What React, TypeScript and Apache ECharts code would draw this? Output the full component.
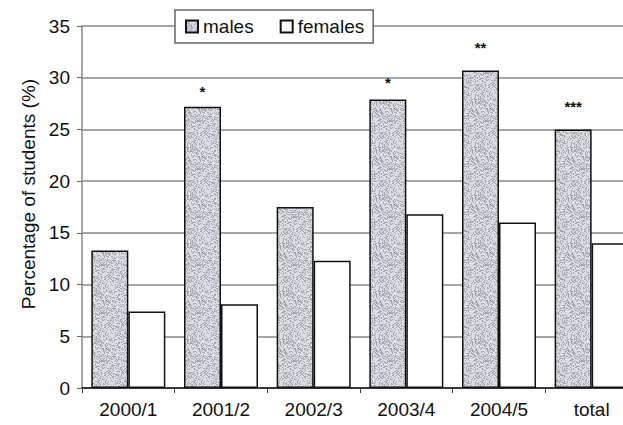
import React, { useEffect, useRef } from "react";
import * as echarts from "echarts";

const categories = ["2000/1", "2001/2", "2002/3", "2003/4", "2004/5", "total"];
const males = [13.3, 27.2, 17.5, 27.9, 30.7, 25.0];
const females = [7.4, 8.1, 12.3, 16.8, 16.0, 14.0];
const significance = ["", "*", "", "*", "**", "***"];
const yTicks = [0, 5, 10, 15, 20, 25, 30, 35];
const yAxisTitle = "Percentage of students (%)";

const starDistance = [6, 8, 6, 9, 15, 15];

function makeStipple(): HTMLCanvasElement {
  const c = document.createElement("canvas");
  c.width = 48;
  c.height = 48;
  const ctx = c.getContext("2d")!;
  const img = ctx.createImageData(48, 48);
  for (let y = 0; y < 48; y++) {
    for (let x = 0; x < 48; x++) {
      const s = Math.sin(x * 12.9898 + y * 78.233) * 43758.5453;
      const h = s - Math.floor(s);
      const v = h < 0.38 ? 166 : 218;
      const i = (y * 48 + x) * 4;
      img.data[i] = v;
      img.data[i + 1] = v + 3;
      img.data[i + 2] = v + 10;
      img.data[i + 3] = 255;
    }
  }
  ctx.putImageData(img, 0, 0);
  return c;
}

export default function App() {
  const ref = useRef<HTMLDivElement>(null);
  useEffect(() => {
    if (!ref.current) return;
    const chart = echarts.init(ref.current, undefined, { renderer: "svg" });
    const stipple = makeStipple();
    const font = "Liberation Sans, Arial, sans-serif";
    chart.setOption({
      animation: false,
      backgroundColor: "#ffffff",
      textStyle: { fontFamily: font },
      legend: {
        left: 175,
        top: 10,
        padding: [7, 9, 7, 10],
        itemGap: 26,
        itemWidth: 12,
        itemHeight: 12,
        backgroundColor: "#ffffff",
        borderColor: "#666",
        borderWidth: 1.5,
        textStyle: { fontSize: 19, color: "#111", fontFamily: font },
        data: [
          { name: "males", icon: "rect" },
          { name: "females", icon: "rect" },
        ],
      },
      graphic: [
        {
          type: "text",
          x: 28,
          y: 194,
          rotation: Math.PI / 2,
          style: {
            text: yAxisTitle,
            fontSize: 19,
            fontFamily: font,
            fill: "#111",
            align: "center",
            verticalAlign: "middle",
          },
        },
      ],
      grid: { left: 82, top: 26, width: 556, height: 362, outerBoundsMode: "none", containLabel: false },
      xAxis: {
        type: "category",
        data: categories,
        axisLine: { lineStyle: { color: "#111", width: 1.5 } },
        axisTick: { show: true, length: 5, lineStyle: { color: "#444" } },
        axisLabel: { fontSize: 19, color: "#111", margin: 12, fontFamily: font },
      },
      yAxis: {
        type: "value",
        min: yTicks[0],
        max: yTicks[yTicks.length - 1],
        interval: 5,
        axisLine: { show: true, lineStyle: { color: "#888", width: 1.5 } },
        axisTick: { show: true, length: 5, lineStyle: { color: "#666" } },
        axisLabel: { fontSize: 19, color: "#111", margin: 12, fontFamily: font },
        splitLine: { show: true, lineStyle: { color: "#888", width: 1.5 } },
      },
      series: [
        {
          name: "males",
          type: "bar",
          barWidth: 37,
          barGap: "0%",
          itemStyle: {
            color: { image: stipple, repeat: "repeat" },
            borderColor: "#111",
            borderWidth: 1.5,
          },
          data: males.map((v, i) => ({
            value: v,
            label: {
              show: significance[i] !== "",
              position: "top",
              distance: starDistance[i],
              formatter: significance[i],
              fontSize: 15,
              fontWeight: "bold",
              color: "#111",
            },
          })),
        },
        {
          name: "females",
          type: "bar",
          barWidth: 37,
          itemStyle: { color: "#ffffff", borderColor: "#111", borderWidth: 1.5 },
          data: females,
        },
      ],
    });
    return () => chart.dispose();
  }, []);
  return (
    <div
      ref={ref}
      style={{ position: "fixed", left: 0, top: 0, width: 623, height: 425, background: "#fff" }}
    />
  );
}
